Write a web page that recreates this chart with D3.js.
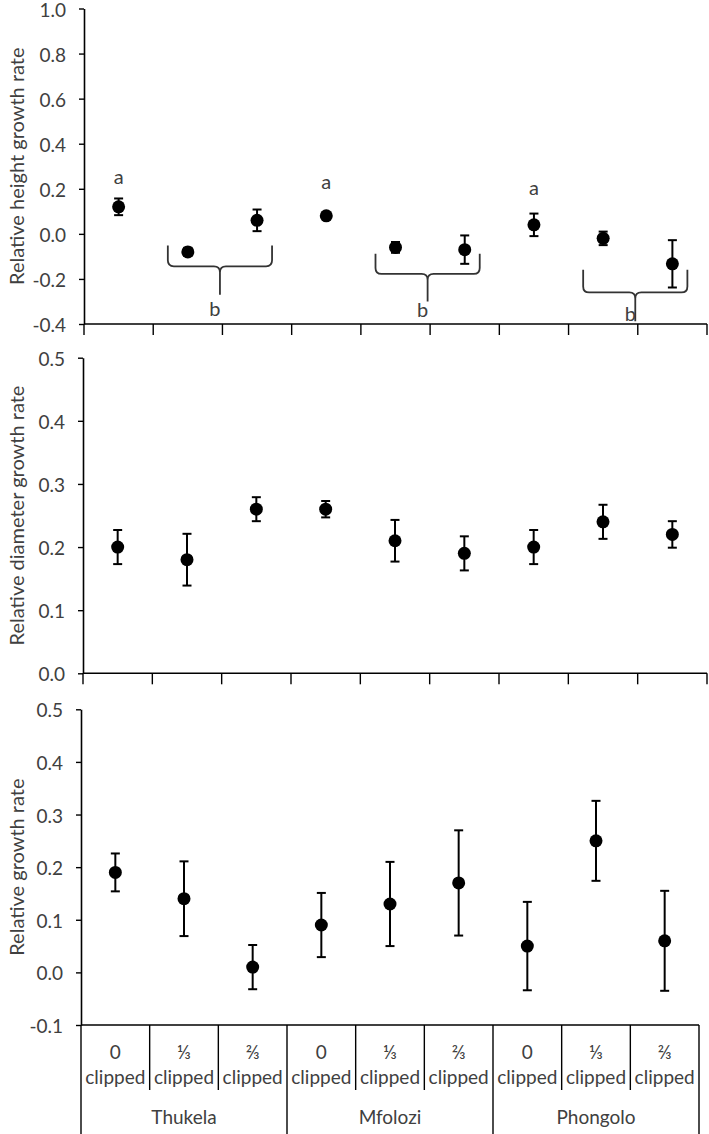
<!DOCTYPE html>
<html>
<head>
<meta charset="utf-8">
<script src="https://cdnjs.cloudflare.com/ajax/libs/d3/7.8.5/d3.min.js"></script>
<style>
  body { margin: 0; background: #fff; }
  text { font-family: Lato, "Open Sans", sans-serif; fill: #404040; }
</style>
</head>
<body>
<div id="chart"></div>
<script>
var width = 709;
var height = 1134;

// categories
var sites = ["Thukela", "Mfolozi", "Phongolo"];
var treatments = ["0", "⅓", "⅔"];
var categories = [];
sites.forEach(function (s) {
  treatments.forEach(function (t) { categories.push(s + "|" + t); });
});

// relative height growth rate
var heightMean = [0.12, -0.08, 0.06, 0.08, -0.06, -0.07, 0.04, -0.02, -0.133];
var heightErr  = [0.037, 0.018, 0.048, 0.01, 0.024, 0.063, 0.05, 0.03, 0.105];
var heightTicks = [-0.4, -0.2, 0.0, 0.2, 0.4, 0.6, 0.8, 1.0];

// relative diameter growth rate
var diamMean = [0.20, 0.18, 0.26, 0.26, 0.21, 0.19, 0.20, 0.24, 0.22];
var diamErr  = [0.027, 0.041, 0.019, 0.013, 0.033, 0.027, 0.027, 0.027, 0.021];
var diamTicks = [0.0, 0.1, 0.2, 0.3, 0.4, 0.5];

// relative growth rate
var rgrMean = [0.19, 0.14, 0.01, 0.09, 0.13, 0.17, 0.05, 0.25, 0.06];
var rgrErr  = [0.036, 0.071, 0.042, 0.061, 0.08, 0.10, 0.084, 0.076, 0.095];
var rgrTicks = [-0.1, 0.0, 0.1, 0.2, 0.3, 0.4, 0.5];

// significance letters (height panel), y in data units
var letterA = [
  { idx: 0, y: 0.256 },
  { idx: 3, y: 0.234 },
  { idx: 6, y: 0.209 }
];
var bracketsB = [
  { from: 1, to: 2, top: -0.052, level: -0.144, stem: -0.27, label: -0.331 },
  { from: 4, to: 5, top: -0.088, level: -0.178, stem: -0.30, label: -0.332 },
  { from: 7, to: 8, top: -0.159, level: -0.26, stem: -0.388, label: -0.351 }
];

var svg = d3.select("#chart").append("svg")
  .attr("width", width)
  .attr("height", height);

function fmt(v) { return v.toFixed(1); }

function drawPanel(opt) {
  var g = svg.append("g");
  var x = d3.scaleBand().domain(categories).range(opt.xr).padding(0);
  var y = d3.scaleLinear().domain(opt.domain).range(opt.yr);

  // y axis
  var yAxis = g.append("g")
    .attr("transform", "translate(" + opt.xr[0] + ",0)")
    .call(d3.axisLeft(y).tickValues(opt.ticks).tickFormat(fmt).tickSize(5).tickPadding(13).tickSizeOuter(0));
  yAxis.select(".domain").attr("stroke", "#000").attr("stroke-width", 1.6);
  yAxis.selectAll(".tick line").attr("stroke", "#000").attr("stroke-width", 1.4);
  yAxis.selectAll(".tick text").style("font-size", "19px").attr("fill", "#404040").attr("dy", "0.4em");

  // x axis line at bottom of domain
  var y0 = y(opt.domain[0]);
  g.append("line")
    .attr("x1", opt.xr[0]).attr("x2", opt.xr[1])
    .attr("y1", y0).attr("y2", y0)
    .attr("stroke", "#000").attr("stroke-width", 1.6);

  var bounds = d3.range(categories.length + 1).map(function (i) {
    return i < categories.length ? x(categories[i]) : x.range()[1];
  });

  if (!opt.labels) {
    g.selectAll(".xtick").data(bounds).enter().append("line")
      .attr("x1", function (d) { return d; }).attr("x2", function (d) { return d; })
      .attr("y1", y0).attr("y2", y0 + 11)
      .attr("stroke", "#000").attr("stroke-width", 1.4);
  } else {
    g.selectAll(".xtick").data(bounds).enter().append("line")
      .attr("x1", function (d) { return d; }).attr("x2", function (d) { return d; })
      .attr("y1", y0)
      .attr("y2", function (d, i) { return i % 3 === 0 ? height : y0 + 65; })
      .attr("stroke", "#000").attr("stroke-width", 1.4);

    var lab = g.selectAll(".xlab").data(categories).enter().append("text")
      .attr("text-anchor", "middle")
      .style("font-size", "19px");
    lab.append("tspan")
      .attr("x", function (d) { return x(d) + x.bandwidth() / 2; })
      .attr("y", y0 + 34)
      .text(function (d) { return d.split("|")[1]; });
    lab.append("tspan")
      .attr("x", function (d) { return x(d) + x.bandwidth() / 2; })
      .attr("y", y0 + 59)
      .text("clipped");

    g.selectAll(".site").data(sites).enter().append("text")
      .attr("text-anchor", "middle")
      .style("font-size", "19px")
      .attr("x", function (d) {
        return (x(d + "|" + treatments[0]) + x(d + "|" + treatments[2]) + x.bandwidth()) / 2;
      })
      .attr("y", y0 + 99)
      .text(function (d) { return d; });
  }

  // y title
  g.append("text")
    .attr("transform", "translate(16," + ((opt.yr[0] + opt.yr[1]) / 2) + ") rotate(-90)")
    .attr("text-anchor", "middle")
    .attr("dominant-baseline", "central")
    .style("font-size", "20px")
    .text(opt.title);

  // error bars
  var cx = function (i) { return x(categories[i]) + x.bandwidth() / 2; };
  var pts = g.selectAll(".pt").data(opt.mean).enter().append("g");
  pts.append("line")
    .attr("x1", function (d, i) { return cx(i); }).attr("x2", function (d, i) { return cx(i); })
    .attr("y1", function (d, i) { return y(d + opt.err[i]); })
    .attr("y2", function (d, i) { return y(d - opt.err[i]); })
    .attr("stroke", "#000").attr("stroke-width", 2);
  [1, -1].forEach(function (s) {
    pts.append("line")
      .attr("x1", function (d, i) { return cx(i) - 4.5; })
      .attr("x2", function (d, i) { return cx(i) + 4.5; })
      .attr("y1", function (d, i) { return y(d + s * opt.err[i]); })
      .attr("y2", function (d, i) { return y(d + s * opt.err[i]); })
      .attr("stroke", "#000").attr("stroke-width", 2);
  });
  pts.append("circle")
    .attr("cx", function (d, i) { return cx(i); })
    .attr("cy", function (d) { return y(d); })
    .attr("r", 6.5)
    .attr("fill", "#000");

  return { g: g, x: x, y: y, cx: cx };
}

var hPanel = drawPanel({
  xr: [84, 707], yr: [324, 8.5], domain: [-0.4, 1.0], ticks: heightTicks,
  mean: heightMean, err: heightErr, title: "Relative height growth rate"
});

// letters "a"
hPanel.g.selectAll(".la").data(letterA).enter().append("text")
  .attr("x", function (d) { return hPanel.cx(d.idx); })
  .attr("y", function (d) { return hPanel.y(d.y); })
  .attr("text-anchor", "middle")
  .attr("dominant-baseline", "central")
  .style("font-size", "20px")
  .text("a");

// curly brackets with "b"
bracketsB.forEach(function (b) {
  var x0 = hPanel.cx(b.from) - 20;
  var x1 = hPanel.cx(b.to) + 15;
  var xm = (x0 + x1) / 2;
  var yt = hPanel.y(b.top), yl = hPanel.y(b.level), ys = hPanel.y(b.stem);
  var p = d3.path();
  p.moveTo(x0, yt);
  p.lineTo(x0, yl - 6);
  p.quadraticCurveTo(x0, yl, x0 + 6, yl);
  p.lineTo(xm - 6, yl);
  p.quadraticCurveTo(xm, yl, xm, yl + 6);
  p.lineTo(xm, ys);
  p.moveTo(x1, yt);
  p.lineTo(x1, yl - 6);
  p.quadraticCurveTo(x1, yl, x1 - 6, yl);
  p.lineTo(xm + 6, yl);
  p.quadraticCurveTo(xm, yl, xm, yl + 6);
  hPanel.g.append("path")
    .attr("d", p.toString())
    .attr("fill", "none")
    .attr("stroke", "#333")
    .attr("stroke-width", 1.8);
  hPanel.g.append("text")
    .attr("x", xm - 5)
    .attr("y", hPanel.y(b.label))
    .attr("text-anchor", "middle")
    .attr("dominant-baseline", "central")
    .style("font-size", "20px")
    .text("b");
});

drawPanel({
  xr: [83, 707], yr: [673.3, 357.7], domain: [0, 0.5], ticks: diamTicks,
  mean: diamMean, err: diamErr, title: "Relative diameter growth rate"
});

drawPanel({
  xr: [81, 699], yr: [1025, 709.3], domain: [-0.1, 0.5], ticks: rgrTicks,
  mean: rgrMean, err: rgrErr, title: "Relative growth rate", labels: true
});
</script>
</body>
</html>
